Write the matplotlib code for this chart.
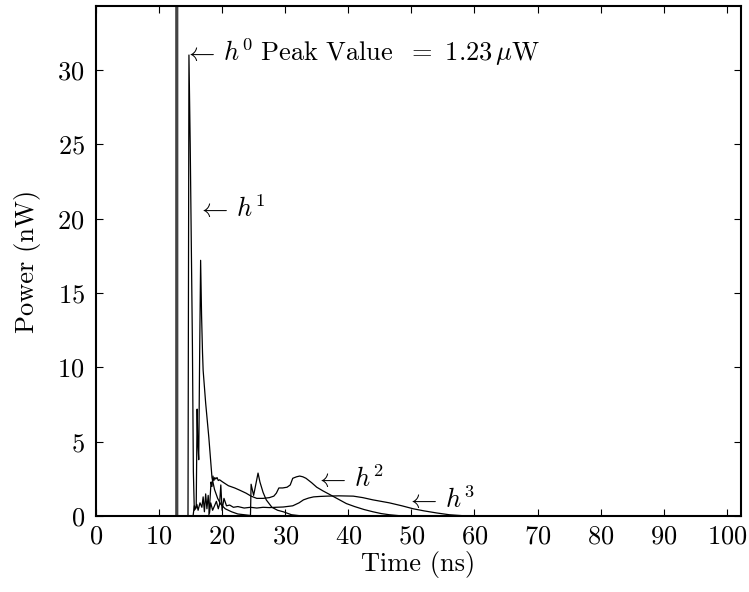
import matplotlib
matplotlib.use('Agg')
import matplotlib.pyplot as plt

plt.rcParams['font.family'] = ['cmr10', 'DejaVu Serif']
plt.rcParams['mathtext.fontset'] = 'cm'
plt.rcParams['axes.formatter.use_mathtext'] = True
plt.rcParams['font.size'] = 19

# h^0 : direct path, peak far above the axis (1.23 uW)
h0_t = [0, 12.72, 12.78, 12.86, 12.92, 102.4]
h0_p = [0, 0, 1230, 1230, 0, 0]

# h^1
h1_t = [0, 14.6, 14.75, 14.95, 15.3, 15.45, 15.6, 15.9, 16.05, 16.15, 16.3, 16.45, 16.6,
        16.75, 16.9, 17.0, 17.4, 17.9, 18.4, 18.8, 19.3, 19.8, 20.5, 21.5, 22.5, 23.5,
        24.5, 24.6, 25.0, 25.7, 26.0, 26.5, 27.0, 27.9, 28.8, 29.7, 31.0, 33.0, 102.4]
h1_p = [0, 0, 31.0, 25.0, 11.5, 3.0, 0.4, 0.6, 7.2, 5.0, 3.8, 11.0, 17.2,
        13.5, 11.0, 9.8, 7.6, 5.3, 2.6, 1.8, 1.2, 0.8, 0.5, 0.3, 0.15, 0.1,
        0.05, 2.15, 1.4, 2.9, 2.3, 1.6, 1.1, 0.6, 0.4, 0.3, 0.1, 0.0, 0.0]

# h^2
h2_t = [0, 17.9, 18.1, 18.25, 18.4, 18.55, 18.7, 18.85, 19.0, 19.2, 19.4, 19.6, 20.1,
        21.0, 22.0, 22.8, 23.8, 24.6, 25.5, 26.5, 27.5, 28.2, 28.6, 29.0, 29.6, 30.3,
        30.8, 31.2, 31.8, 32.3, 32.8, 33.3, 34.2, 35.0, 36.0, 37.1, 38.4, 39.7, 41.0,
        42.5, 43.9, 45.2, 46.5, 48.0, 50.0, 102.4]
h2_p = [0, 0, 1.2, 2.3, 2.0, 2.7, 2.4, 2.6, 2.5, 2.6, 2.4, 2.45, 2.3,
        2.05, 1.9, 1.75, 1.55, 1.35, 1.2, 1.2, 1.25, 1.35, 1.55, 1.9, 1.9, 1.95,
        2.1, 2.55, 2.65, 2.7, 2.65, 2.55, 2.25, 1.95, 1.7, 1.45, 1.15, 0.85, 0.65,
        0.45, 0.3, 0.18, 0.1, 0.04, 0, 0]

# h^3
h3_t = [0, 15.4, 15.6, 15.8, 16.0, 16.2, 16.5, 16.8, 17.0, 17.2, 17.4, 17.6, 17.8, 18.0,
        18.2, 18.5, 18.8, 19.1, 19.4, 19.6, 19.8, 20.0, 20.3, 20.7, 21.2, 21.8, 22.5,
        23.5, 24.5, 25.5, 26.5, 27.5, 28.5, 29.7, 31.2, 32.2, 32.9, 33.7, 34.5, 35.5,
        36.6, 38.5, 40.8, 42.3, 43.9, 45.2, 46.5, 48.5, 50.3, 52.0, 54.0, 56.0, 58.0,
        60.0, 102.4]
h3_p = [0, 0, 0.7, 0.5, 0.8, 0.4, 0.9, 0.6, 1.3, 0.3, 1.5, 0.5, 1.4, 0.2,
        0.9, 0.4, 0.7, 1.0, 0.5, 0.8, 2.1, 0.4, 1.2, 0.7, 0.75, 0.6, 0.65,
        0.55, 0.6, 0.55, 0.6, 0.58, 0.6, 0.62, 0.7, 0.9, 1.1, 1.22, 1.3, 1.33,
        1.35, 1.37, 1.35, 1.25, 1.1, 1.0, 0.9, 0.7, 0.5, 0.36, 0.22, 0.1, 0.04,
        0.0, 0.0]

labels = [r'$\leftarrow\, h^0\ \mathrm{Peak\ Value}\ \ =\ 1.23\,\mu\mathrm{W}$',
          r'$\leftarrow\, h^1$', r'$\leftarrow\, h^2$', r'$\leftarrow\, h^3$']
label_x = [13.9, 16.0, 34.8, 49.2]
label_y = [30.6, 20.1, 1.95, 0.55]

fig = plt.figure(figsize=(7.49, 5.92), dpi=100)
ax = fig.add_axes([0.128, 0.128, 0.861, 0.862])

ax.plot(h0_t, h0_p, color='#444444', linewidth=1.4)
ax.plot(h1_t, h1_p, color='black', linewidth=0.9)
ax.plot(h2_t, h2_p, color='black', linewidth=0.9)
ax.plot(h3_t, h3_p, color='black', linewidth=0.9)

for s, x, y in zip(labels, label_x, label_y):
    ax.text(x, y, s, ha='left', va='baseline', fontsize=19)

ax.set_xlim(0, 102.2)
ax.set_ylim(0, 34.3)
ax.set_xticks(range(0, 101, 10))
ax.set_yticks(range(0, 31, 5))
ax.tick_params(direction='in', top=True, right=True, length=5, width=0.8, labelsize=19)
ax.tick_params(axis='x', pad=6)
ax.tick_params(axis='y', pad=8)
for sp in ax.spines.values():
    sp.set_linewidth(1.5)

ax.set_xlabel('Time (ns)', fontsize=19, labelpad=2)
ax.set_ylabel('Power (nW)', fontsize=19, labelpad=12)

fig.savefig('out.png', dpi=100)
